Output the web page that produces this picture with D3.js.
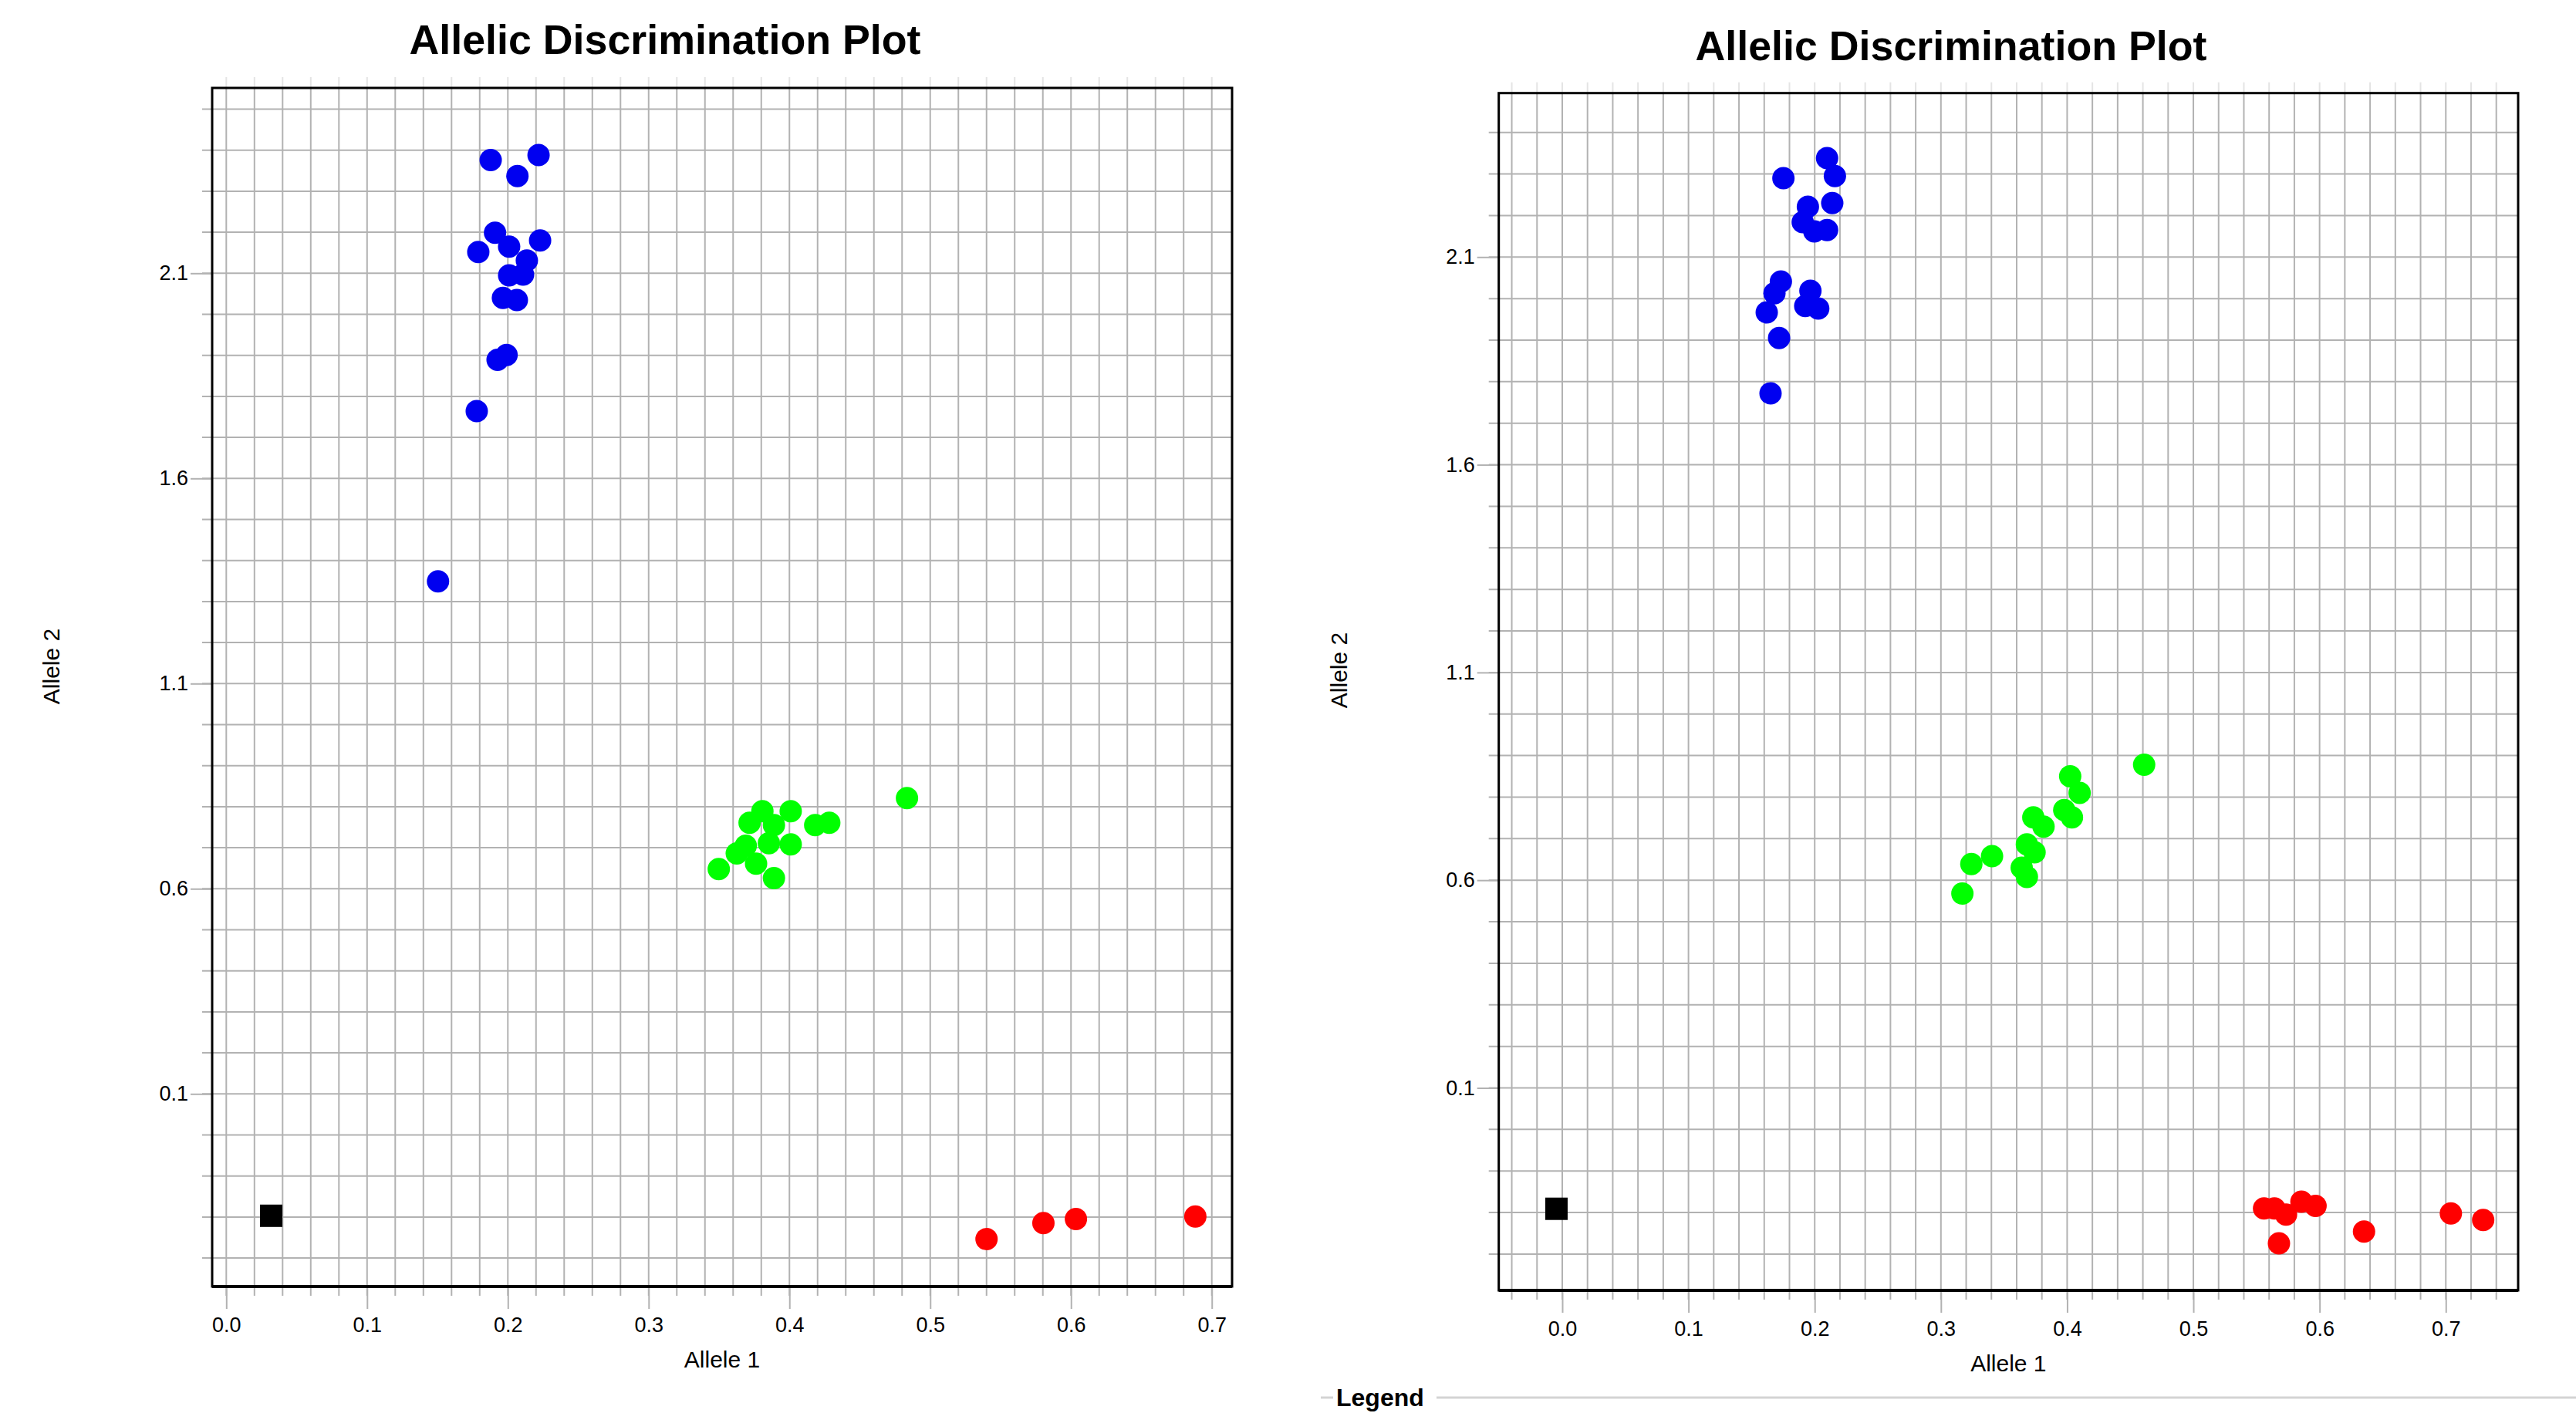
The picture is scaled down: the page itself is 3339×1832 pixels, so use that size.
<!DOCTYPE html>
<html>
<head>
<meta charset="utf-8">
<script src="https://cdn.jsdelivr.net/npm/d3@7"></script>
<style>
  html, body { margin: 0; padding: 0; background: #fff; }
  svg { display: block; font-family: "Liberation Sans", Arial, sans-serif; }
</style>
</head>
<body>
<div id="chart"></div>
<script>
// ---- data ----
const xTickLabels = [0.0, 0.1, 0.2, 0.3, 0.4, 0.5, 0.6, 0.7]
const yTickLabels = [0.1, 0.6, 1.1, 1.6, 2.1]

// plate 1 (left)
const p1Blue = [[0.1878, 2.376], [0.2218, 2.388], [0.2068, 2.337], [0.1909, 2.199], [0.1790, 2.152],
  [0.2009, 2.165], [0.2229, 2.180], [0.2135, 2.131], [0.2009, 2.095], [0.2108, 2.097],
  [0.1965, 2.040], [0.2064, 2.035], [0.1927, 1.889], [0.1991, 1.901], [0.1779, 1.764], [0.1504, 1.349]]
const p1Green = [[0.3498, 0.648], [0.3626, 0.686], [0.3717, 0.761], [0.3808, 0.789], [0.4009, 0.789],
  [0.3890, 0.755], [0.4009, 0.708], [0.3890, 0.626], [0.3763, 0.661], [0.3690, 0.705],
  [0.4183, 0.755], [0.4283, 0.761], [0.3854, 0.711], [0.4835, 0.821]]
const p1Red = [[0.540, -0.254], [0.5804, -0.215], [0.6035, -0.205], [0.6883, -0.199]]
const p1Ntc = [[0.0319, -0.197]]

// plate 2 (right)
const p2Blue = [[0.2098, 2.338], [0.2160, 2.295], [0.1752, 2.290], [0.2139, 2.230], [0.1946, 2.221],
  [0.1905, 2.184], [0.1997, 2.162], [0.2098, 2.165], [0.1732, 2.041], [0.1681, 2.013],
  [0.1620, 1.967], [0.1966, 2.019], [0.1925, 1.982], [0.2028, 1.976], [0.1718, 1.905], [0.1650, 1.772]]
const p2Green = [[0.4610, 0.878], [0.4024, 0.850], [0.4099, 0.810], [0.3977, 0.769], [0.4038, 0.751],
  [0.3732, 0.751], [0.3813, 0.729], [0.3681, 0.686], [0.3742, 0.667], [0.3640, 0.630],
  [0.3681, 0.608], [0.3405, 0.658], [0.3241, 0.639], [0.3170, 0.568]]
const p2Red = [[0.5560, -0.190], [0.5642, -0.190], [0.5734, -0.205], [0.5856, -0.174], [0.5968, -0.184],
  [0.5678, -0.274], [0.6352, -0.246], [0.7040, -0.202], [0.7296, -0.218]]
const p2Ntc = [[-0.0046, -0.191]]

const W = 3339, H = 1832
const gridColor = '#b2b2b2'

let svg = d3.select('#chart').append('svg')
  .attr('width', W).attr('height', H)

function drawPlot(cfg, groups) {
  let x = d3.scaleLinear().domain(cfg.xDomain).range([cfg.x0, cfg.x1])
  let y = d3.scaleLinear().domain(cfg.yDomain).range([cfg.y1, cfg.y0])
  let g = svg.append('g')

  // minor grid steps: 0.02 on x, 0.1 on y
  let xGrid = d3.range(Math.ceil(cfg.xDomain[0] / 0.02), Math.floor(cfg.xDomain[1] / 0.02) + 1).map(i => i * 0.02)
  let yGrid = d3.range(Math.ceil(cfg.yDomain[0] / 0.1), Math.floor(cfg.yDomain[1] / 0.1) + 1).map(i => i * 0.1)

  // faint stubs above the frame
  g.append('g').selectAll('line').data(xGrid).enter().append('line')
    .attr('x1', d => x(d)).attr('x2', d => x(d))
    .attr('y1', cfg.y0 - 14).attr('y2', cfg.y0)
    .attr('stroke', '#e4e4e4').attr('stroke-width', 2)

  // grid
  g.append('g').selectAll('line').data(xGrid).enter().append('line')
    .attr('x1', d => x(d)).attr('x2', d => x(d))
    .attr('y1', cfg.y0).attr('y2', cfg.y1 + 12)
    .attr('stroke', gridColor).attr('stroke-width', 2)
  g.append('g').selectAll('line').data(yGrid).enter().append('line')
    .attr('x1', cfg.x0 - 13).attr('x2', cfg.x1)
    .attr('y1', d => y(d)).attr('y2', d => y(d))
    .attr('stroke', gridColor).attr('stroke-width', 2)

  // labelled axes
  let xAxis = d3.axisBottom(x).tickValues(xTickLabels).tickSize(29).tickPadding(11)
    .tickFormat(d3.format('.1f'))
  let xa = g.append('g').attr('transform', `translate(0, ${cfg.y1})`).call(xAxis)
  let yAxis = d3.axisLeft(y).tickValues(yTickLabels).tickSize(28).tickPadding(3)
    .tickFormat(d3.format('.1f'))
  let ya = g.append('g').attr('transform', `translate(${cfg.x0}, 0)`).call(yAxis)
  ;[xa, ya].forEach(a => {
    a.select('.domain').remove()
    a.selectAll('line').attr('stroke', gridColor).attr('stroke-width', 2)
    a.selectAll('text').attr('font-size', 27).attr('fill', '#000')
      .attr('font-family', '"Liberation Sans", Arial, sans-serif')
  })

  // frame
  g.append('rect')
    .attr('x', cfg.x0).attr('y', cfg.y0)
    .attr('width', cfg.x1 - cfg.x0).attr('height', cfg.y1 - cfg.y0)
    .attr('fill', 'none').attr('stroke', '#000').attr('stroke-width', 3)
  g.append('line')
    .attr('x1', cfg.x0).attr('x2', cfg.x1).attr('y1', cfg.y1).attr('y2', cfg.y1)
    .attr('stroke', '#000').attr('stroke-width', 4)

  // points
  groups.forEach(grp => {
    if (grp.square) {
      g.append('g').selectAll('rect').data(grp.data).enter().append('rect')
        .attr('x', d => x(d[0]) - 14.5).attr('y', d => y(d[1]) - 14.5)
        .attr('width', 29).attr('height', 29)
        .attr('fill', grp.color)
    } else {
      g.append('g').selectAll('circle').data(grp.data).enter().append('circle')
        .attr('cx', d => x(d[0])).attr('cy', d => y(d[1]))
        .attr('r', 14.5)
        .attr('fill', grp.color)
    }
  })

  // texts
  g.append('text')
    .attr('x', cfg.titleX).attr('y', cfg.titleY)
    .attr('text-anchor', 'middle')
    .attr('font-size', 54).attr('font-weight', 'bold')
    .attr('textLength', 663).attr('lengthAdjust', 'spacingAndGlyphs')
    .text('Allelic Discrimination Plot')
  g.append('text')
    .attr('x', (cfg.x0 + cfg.x1) / 2).attr('y', cfg.xTitleY)
    .attr('text-anchor', 'middle').attr('font-size', 30)
    .text('Allele 1')
  g.append('text')
    .attr('transform', `translate(${cfg.yTitleX}, ${cfg.yTitleY}) rotate(-90)`)
    .attr('text-anchor', 'middle').attr('font-size', 30)
    .text('Allele 2')
}

drawPlot({x0: 275, x1: 1597, y0: 114, y1: 1668,
  xDomain: [-0.01003, 0.7144], yDomain: [-0.3694, 2.5517],
  titleX: 862, titleY: 70, xTitleY: 1773, yTitleX: 77, yTitleY: 864},
  [{data: p1Blue, color: '#0000f0'}, {data: p1Green, color: '#00ff00'},
   {data: p1Red, color: '#ff0000'}, {data: p1Ntc, color: '#000', square: true}])

drawPlot({x0: 1942.7, x1: 3264, y0: 120.7, y1: 1673,
  xDomain: [-0.0503, 0.7573], yDomain: [-0.3874, 2.4947],
  titleX: 2529, titleY: 78, xTitleY: 1778, yTitleX: 1746, yTitleY: 869},
  [{data: p2Blue, color: '#0000f0'}, {data: p2Green, color: '#00ff00'},
   {data: p2Red, color: '#ff0000'}, {data: p2Ntc, color: '#000', square: true}])

// legend group-box edge along the bottom
svg.append('line').attr('x1', 1712).attr('x2', 1728).attr('y1', 1812).attr('y2', 1812)
  .attr('stroke', '#d4d4d4').attr('stroke-width', 3)
svg.append('line').attr('x1', 1862).attr('x2', W).attr('y1', 1812).attr('y2', 1812)
  .attr('stroke', '#d4d4d4').attr('stroke-width', 3)
svg.append('text').attr('x', 1732).attr('y', 1823)
  .attr('font-size', 32).attr('font-weight', 'bold')
  .text('Legend')
</script>
</body>
</html>
